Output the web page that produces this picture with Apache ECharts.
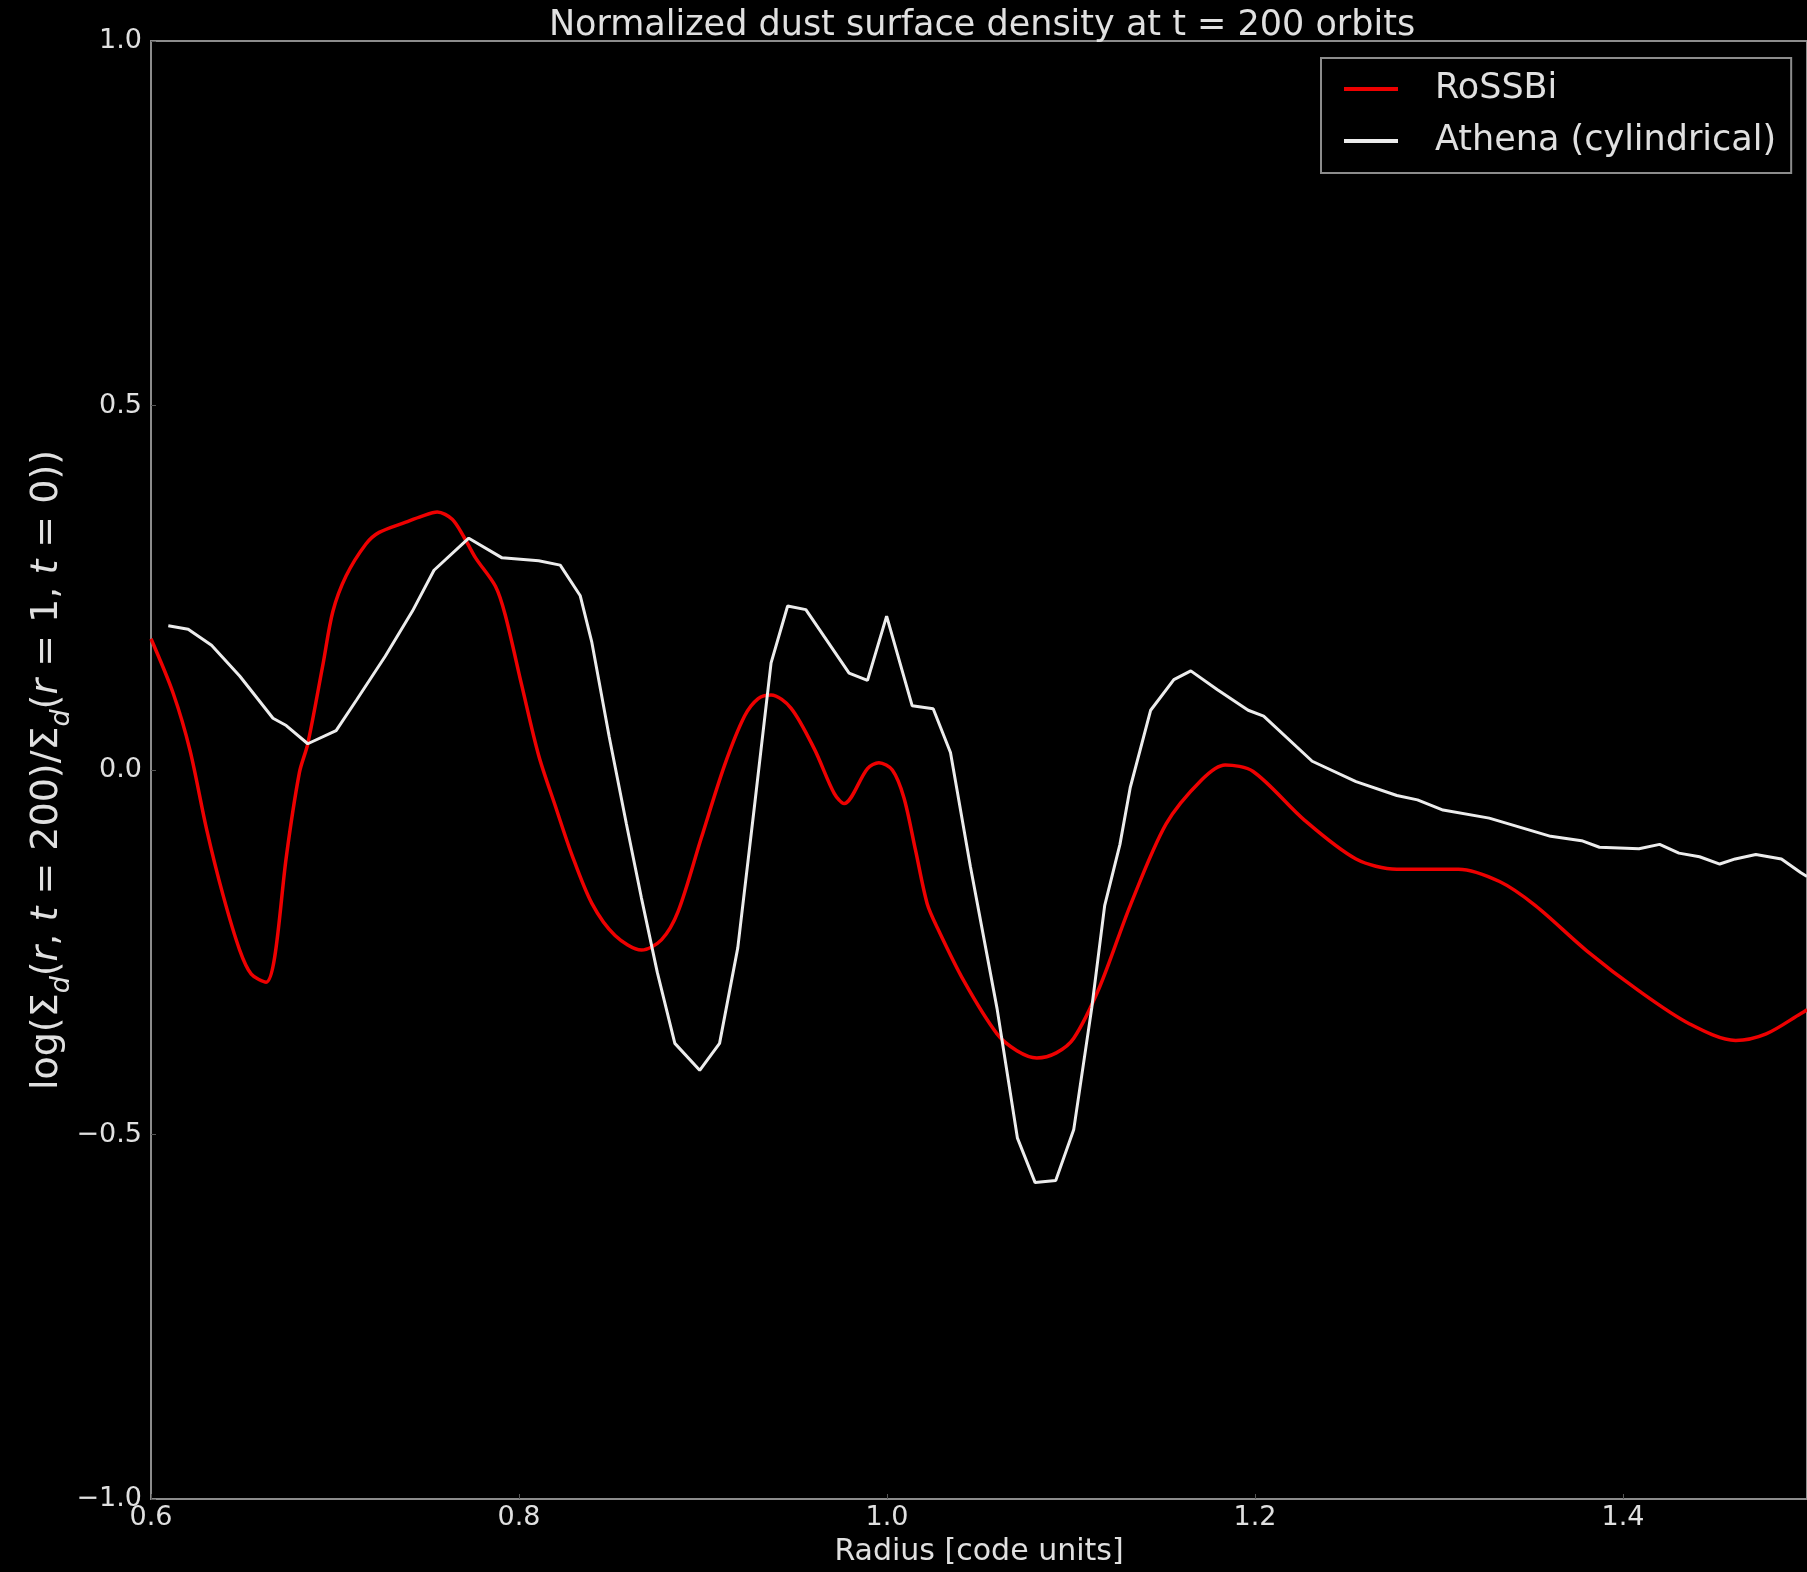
<!DOCTYPE html>
<html>
<head>
<meta charset="utf-8">
<script src="https://cdn.jsdelivr.net/npm/echarts@6/dist/echarts.min.js"></script>
<style>
  html, body { margin: 0; padding: 0; background: #000; }
  #chart { width: 1807px; height: 1572px; }
</style>
</head>
<body>
<div id="chart"></div>
<script>
// Radius samples and normalized log dust surface density, RoSSBi run
const rossbiR = [
  0.600, 0.6121, 0.6212, 0.6302, 0.6392, 0.6482, 0.6545, 0.6626, 0.6672, 0.6735,
  0.6807, 0.6852, 0.6934, 0.6988, 0.7060, 0.7168, 0.7240, 0.7385, 0.7470, 0.7556,
  0.7637, 0.7700, 0.7764, 0.7872, 0.7926, 0.8016, 0.8107, 0.8197, 0.8287, 0.8396,
  0.8522, 0.8666, 0.8774, 0.8865, 0.8991, 0.9118, 0.9226, 0.9300, 0.9370, 0.9478,
  0.9605, 0.9713, 0.9767, 0.9894, 0.9956, 1.0029, 1.0092, 1.0155, 1.0218, 1.0273,
  1.0417, 1.0598, 1.0706, 1.0814, 1.0920, 1.1015, 1.1155, 1.1322, 1.1517, 1.1712,
  1.1838, 1.1990, 1.2270, 1.2549, 1.2771, 1.3106, 1.3329, 1.3524, 1.3803, 1.4087,
  1.4360, 1.4612, 1.4778, 1.4967, 1.5000
];
const rossbiLog = [
  0.180, 0.105, 0.027, -0.081, -0.172, -0.247, -0.280, -0.291, -0.257, -0.120,
  -0.003, 0.036, 0.144, 0.217, 0.266, 0.310, 0.326, 0.340, 0.348, 0.354,
  0.344, 0.320, 0.291, 0.252, 0.212, 0.115, 0.020, -0.049, -0.116, -0.183,
  -0.227, -0.247, -0.233, -0.194, -0.093, 0.007, 0.074, 0.098, 0.103, 0.085,
  0.029, -0.032, -0.046, 0.002, 0.010, 0.000, -0.038, -0.110, -0.183, -0.216,
  -0.289, -0.362, -0.385, -0.395, -0.388, -0.368, -0.298, -0.186, -0.074, -0.013,
  0.007, -0.002, -0.069, -0.122, -0.136, -0.136, -0.153, -0.186, -0.248, -0.303,
  -0.348, -0.371, -0.362, -0.334, -0.329
];

// Radius samples and normalized log dust surface density, Athena cylindrical run
const athenaR = [
  0.6094, 0.6202, 0.6329, 0.6482, 0.6663, 0.6735, 0.6852, 0.7006, 0.7117, 0.7273,
  0.7421, 0.7538, 0.7727, 0.7908, 0.8107, 0.8224, 0.8333, 0.8396, 0.8490, 0.8583,
  0.8665, 0.8752, 0.8847, 0.8982, 0.9090, 0.9189, 0.9280, 0.9370, 0.9460, 0.9559,
  0.9794, 0.9894, 0.9998, 1.0137, 1.0251, 1.0345, 1.0453, 1.0598, 1.0709, 1.0805,
  1.0917, 1.1015, 1.1113, 1.1183, 1.1266, 1.1322, 1.1433, 1.1559, 1.1651, 1.1796,
  1.1963, 1.2047, 1.2311, 1.2549, 1.2771, 1.2883, 1.3022, 1.3273, 1.3607, 1.3775,
  1.3872, 1.4087, 1.4199, 1.4304, 1.4416, 1.4526, 1.4610, 1.4722, 1.4861, 1.4967,
  1.5000
];
const athenaLog = [
  0.198, 0.193, 0.171, 0.129, 0.071, 0.061, 0.036, 0.054, 0.096, 0.156,
  0.218, 0.274, 0.318, 0.291, 0.287, 0.281, 0.239, 0.175, 0.046, -0.073,
  -0.175, -0.278, -0.375, -0.412, -0.375, -0.244, -0.049, 0.147, 0.225, 0.220,
  0.133, 0.123, 0.211, 0.088, 0.084, 0.024, -0.132, -0.327, -0.505, -0.566,
  -0.563, -0.493, -0.326, -0.186, -0.102, -0.024, 0.082, 0.124, 0.136, 0.110,
  0.082, 0.074, 0.012, -0.016, -0.035, -0.041, -0.055, -0.066, -0.091, -0.097,
  -0.106, -0.108, -0.102, -0.114, -0.119, -0.129, -0.122, -0.116, -0.122, -0.141,
  -0.146
];

const seriesNames = ['RoSSBi', 'Athena (cylindrical)'];
const xTicks = { min: 0.6, max: 1.5, step: 0.2 };
const yTicks = { min: -1.0, max: 1.0, step: 0.5 };

const pairs = (xs, ys) => xs.map((x, i) => [x, ys[i]]);
const fmt = v => v.toFixed(1).replace('-', '\u2212');

const FONT = 'DejaVu Sans';
const spine = '#8c8c8c';
const textCol = '#e0e0e0';

const chart = echarts.init(document.getElementById('chart'), null, { renderer: 'canvas' });

chart.setOption({
  backgroundColor: '#000',
  animation: false,
  title: {
    text: 'Normalized dust surface density at t = 200 orbits',
    left: 982,
    top: 8,
    padding: 0,
    textAlign: 'center',
    textStyle: { color: textCol, fontFamily: FONT, fontSize: 35, fontWeight: 'normal', lineHeight: 36 }
  },
  legend: {
    data: seriesNames,
    orient: 'vertical',
    left: 1321,
    top: 58,
    padding: [11, 15, 12, 23],
    itemGap: 12,
    itemWidth: 54,
    itemHeight: 4,
    icon: 'rect',
    borderColor: spine,
    borderWidth: 2,
    borderRadius: 0,
    backgroundColor: '#000',
    textStyle: { color: textCol, fontFamily: FONT, fontSize: 35, lineHeight: 40, padding: [0, 0, 0, 32] }
  },
  grid: {
    left: 151, right: -6, top: 41, bottom: 70,
    show: true, borderColor: spine, borderWidth: 2, backgroundColor: '#000'
  },
  xAxis: {
    type: 'value',
    min: xTicks.min, max: xTicks.max, interval: xTicks.step,
    name: 'Radius [code units]',
    nameLocation: 'middle',
    nameGap: 38,
    nameMoveOverlap: false,
    nameTextStyle: { color: textCol, fontFamily: FONT, fontSize: 30, lineHeight: 30 },
    axisLine: { show: false, onZero: false },
    axisTick: { show: true, inside: true, length: 5, lineStyle: { color: '#555' } },
    splitLine: { show: false },
    axisLabel: {
      color: textCol, fontFamily: FONT, fontSize: 27, lineHeight: 27, margin: 5,
      showMaxLabel: false, formatter: fmt
    }
  },
  yAxis: {
    type: 'value',
    min: yTicks.min, max: yTicks.max, interval: yTicks.step,
    name: '{n|log(\u03A3}{s|d}{n|(}{i|r}{n|, }{i|t}{n| = 200)/\u03A3}{s|d}{n|(}{i|r}{n| = 1, }{i|t}{n| = 0))}',
    nameLocation: 'middle',
    nameRotate: 90,
    nameGap: 76,
    nameMoveOverlap: false,
    nameTextStyle: {
      color: textCol, fontFamily: FONT, fontSize: 38,
      rich: {
        n: { color: textCol, fontFamily: FONT, fontSize: 38, lineHeight: 56, verticalAlign: 'middle' },
        i: { color: textCol, fontFamily: FONT, fontSize: 38, fontStyle: 'italic', lineHeight: 56, verticalAlign: 'middle' },
        s: { color: textCol, fontFamily: FONT, fontSize: 27, fontStyle: 'italic', lineHeight: 30, verticalAlign: 'bottom' }
      }
    },
    axisLine: { show: false, onZero: false },
    axisTick: { show: true, inside: true, length: 5, lineStyle: { color: '#555' } },
    splitLine: { show: false },
    axisLabel: { color: textCol, fontFamily: FONT, fontSize: 27, margin: 9, formatter: fmt }
  },
  series: [
    {
      name: seriesNames[0],
      type: 'line',
      data: pairs(rossbiR, rossbiLog),
      smooth: 0.3,
      symbol: 'none',
      color: '#ee0000',
      lineStyle: { color: '#ee0000', width: 3.5 },
      clip: true,
      z: 2
    },
    {
      name: seriesNames[1],
      type: 'line',
      data: pairs(athenaR, athenaLog),
      smooth: false,
      symbol: 'none',
      color: '#ececec',
      lineStyle: { color: '#ececec', width: 3 },
      clip: true,
      z: 3
    }
  ]
});
</script>
</body>
</html>
